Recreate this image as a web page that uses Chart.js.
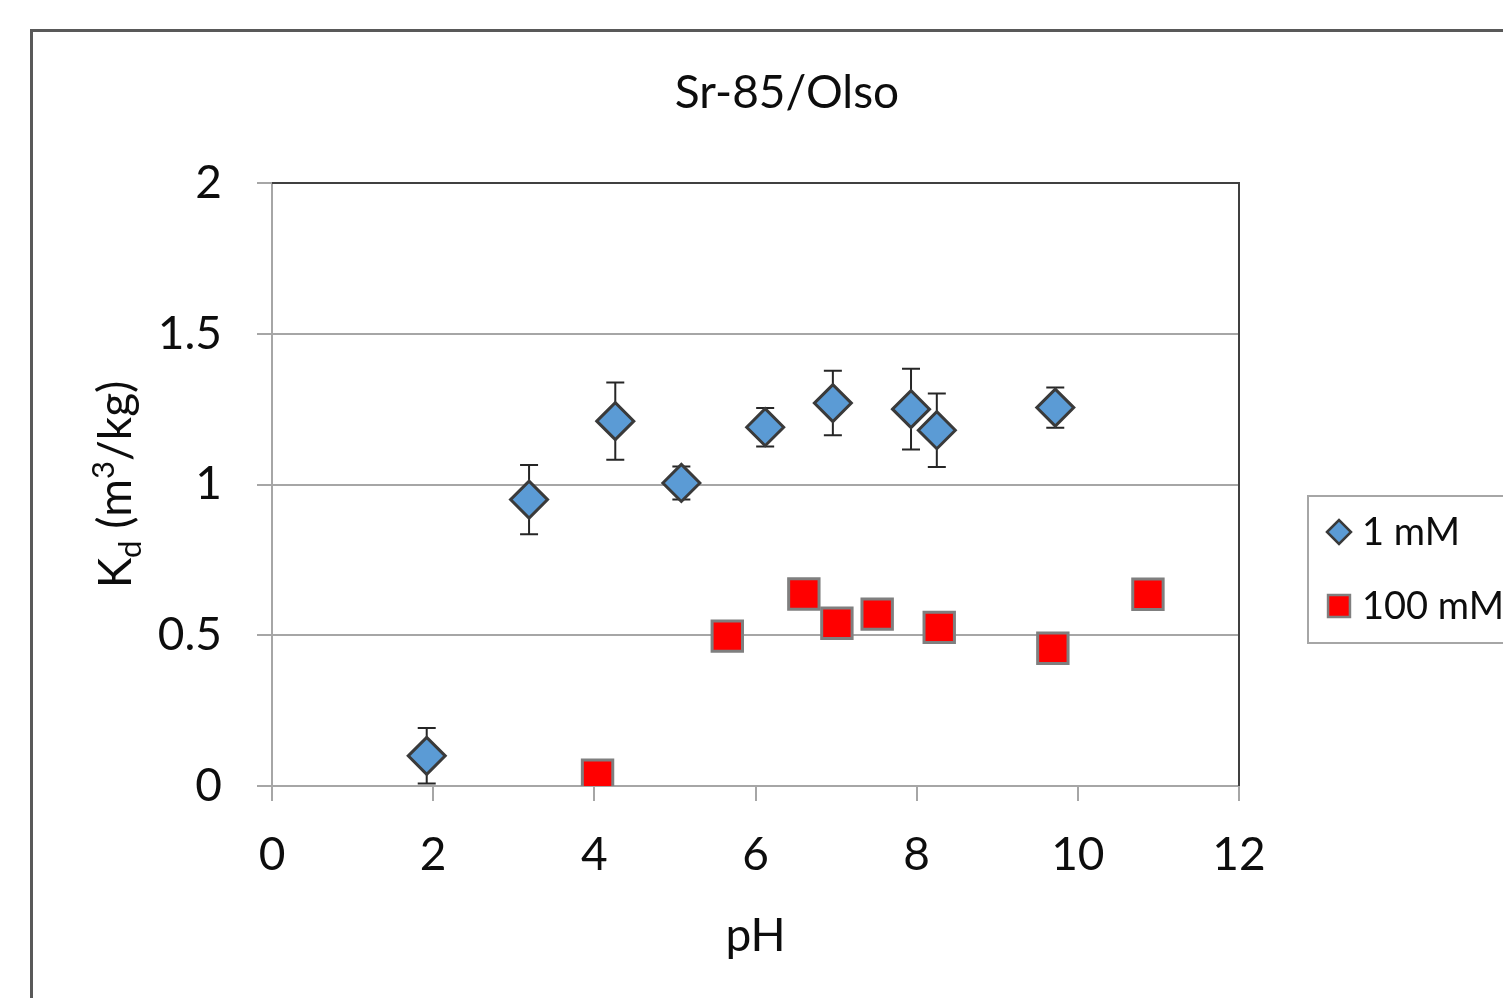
<!DOCTYPE html>
<html>
<head>
<meta charset="utf-8">
<script src="https://cdn.jsdelivr.net/npm/chart.js@4.4.1/dist/chart.umd.min.js"></script>
<style>
  html, body { margin: 0; padding: 0; background: #fff; overflow: hidden; }
  #wrap { position: absolute; left: 0; top: 0; width: 1574px; height: 1100px; }
</style>
</head>
<body>
<div id="wrap"><canvas id="kdChart" width="1574" height="1100"></canvas></div>
<script>
// pH and Kd values
const ph1mM = [1.92, 3.19, 4.26, 5.08, 6.12, 6.96, 7.93, 8.25, 9.72];
const kd1mM = [0.10, 0.95, 1.21, 1.005, 1.19, 1.27, 1.25, 1.18, 1.255];
const err1mM = [0.092, 0.115, 0.128, 0.055, 0.064, 0.107, 0.134, 0.122, 0.067];

const ph100mM = [4.04, 5.65, 6.60, 7.01, 7.51, 8.28, 9.69, 10.87];
const kd100mM = [0.036, 0.497, 0.637, 0.54, 0.57, 0.526, 0.457, 0.636];

const seriesNames = ["1 mM", "100 mM"];
const xTicks = [0, 2, 4, 6, 8, 10, 12];
const yTicks = [0, 0.5, 1, 1.5, 2];

const chartTitle = "Sr-85/Olso";
const xTitle = "pH";

const FONT = "Lato, 'Open Sans', sans-serif";
const TEXT = "#0d0d0d";
const GRID = "#a6a6a6";

function toPoints(xs, ys) {
    return xs.map((x, i) => ({ x, y: ys[i] }));
}

// Outer chart frame, drawn behind everything
const framePlugin = {
    id: "frame",
    beforeDraw(chart) {
        const ctx = chart.ctx;
        ctx.save();
        ctx.fillStyle = "#fff";
        ctx.fillRect(0, 0, chart.width, chart.height);
        ctx.strokeStyle = "#595959";
        ctx.lineWidth = 3;
        ctx.beginPath();
        ctx.moveTo(31.5, chart.height + 10);
        ctx.lineTo(31.5, 30.5);
        ctx.lineTo(chart.width + 10, 30.5);
        ctx.stroke();
        ctx.restore();
    },
};

// Vertical error bars for the 1 mM series
const errorBarPlugin = {
    id: "errorBars",
    beforeDatasetsDraw(chart) {
        const ctx = chart.ctx;
        const xs = chart.scales.x;
        const ys = chart.scales.y;
        ctx.save();
        ctx.strokeStyle = "#262626";
        ctx.lineWidth = 2;
        ph1mM.forEach((ph, i) => {
            const px = xs.getPixelForValue(ph);
            const top = ys.getPixelForValue(kd1mM[i] + err1mM[i]);
            const bot = ys.getPixelForValue(kd1mM[i] - err1mM[i]);
            ctx.beginPath();
            ctx.moveTo(px, top);
            ctx.lineTo(px, bot);
            ctx.moveTo(px - 9, top);
            ctx.lineTo(px + 9, top);
            ctx.moveTo(px - 9, bot);
            ctx.lineTo(px + 9, bot);
            ctx.stroke();
        });
        ctx.restore();
    },
};

function drawMarker(ctx, style, x, y, r, fill, stroke, lw) {
    ctx.save();
    ctx.fillStyle = fill;
    ctx.strokeStyle = stroke;
    ctx.lineWidth = lw;
    ctx.beginPath();
    if (style === "rectRot") {
        ctx.moveTo(x - r, y);
        ctx.lineTo(x, y - r);
        ctx.lineTo(x + r, y);
        ctx.lineTo(x, y + r);
        ctx.closePath();
    } else {
        const h = r * Math.SQRT1_2;
        ctx.rect(x - h, y - h, 2 * h, 2 * h);
    }
    ctx.fill();
    ctx.stroke();
    ctx.restore();
}

// Titles (with sub/superscripts), plot border and boxed legend
const decorPlugin = {
    id: "decor",
    afterDraw(chart) {
        const ctx = chart.ctx;
        const area = chart.chartArea;
        ctx.save();

        // plot area border, top and right
        ctx.strokeStyle = "#404040";
        ctx.lineWidth = 2;
        ctx.beginPath();
        ctx.moveTo(area.left, area.top);
        ctx.lineTo(area.right, area.top);
        ctx.lineTo(area.right, area.bottom);
        ctx.stroke();

        ctx.fillStyle = TEXT;
        ctx.textBaseline = "alphabetic";
        ctx.textAlign = "center";

        // chart title
        ctx.font = "46px " + FONT;
        ctx.fillText(chartTitle, 787, 108);

        // x axis title
        ctx.fillText(xTitle, (area.left + area.right) / 2, 951);

        // y axis title: K_d (m^3/kg)
        const parts = [
            { t: "K", size: 46, dy: 0 },
            { t: "d", size: 31, dy: 10 },
            { t: " (m", size: 46, dy: 0 },
            { t: "3", size: 31, dy: -17 },
            { t: "/kg)", size: 46, dy: 0 },
        ];
        ctx.textAlign = "left";
        let total = 0;
        parts.forEach((p) => {
            ctx.font = p.size + "px " + FONT;
            p.w = ctx.measureText(p.t).width;
            total += p.w;
        });
        ctx.translate(131, (area.top + area.bottom) / 2);
        ctx.rotate(-Math.PI / 2);
        let cx = -total / 2;
        parts.forEach((p) => {
            ctx.font = p.size + "px " + FONT;
            ctx.fillText(p.t, cx, p.dy);
            cx += p.w;
        });
        ctx.setTransform(1, 0, 0, 1, 0, 0);

        // legend box
        ctx.strokeStyle = GRID;
        ctx.lineWidth = 2;
        ctx.strokeRect(1308, 496, 400, 147);
        ctx.font = "38px " + FONT;
        ctx.textBaseline = "middle";
        const rows = [532, 606];
        chart.data.datasets.forEach((ds, i) => {
            const y = rows[i];
            const r = ds.pointStyle === "rectRot" ? 12 : 15.5;
            drawMarker(ctx, ds.pointStyle, 1339, y, r, ds.backgroundColor, ds.borderColor, 2.5);
            ctx.fillStyle = TEXT;
            ctx.fillText(ds.label, 1362, y + 1);
        });

        ctx.restore();
    },
};

new Chart(document.getElementById("kdChart"), {
    type: "scatter",
    data: {
        datasets: [
            {
                label: seriesNames[0],
                data: toPoints(ph1mM, kd1mM),
                pointStyle: "rectRot",
                pointRadius: 18.5,
                pointHoverRadius: 18.5,
                backgroundColor: "#5b9bd5",
                borderColor: "#3a3a3a",
                borderWidth: 3,
            },
            {
                label: seriesNames[1],
                data: toPoints(ph100mM, kd100mM),
                pointStyle: "rect",
                pointRadius: 21.5,
                pointHoverRadius: 21.5,
                backgroundColor: "#ff0000",
                borderColor: "#7f7f7f",
                borderWidth: 3,
            },
        ],
    },
    options: {
        responsive: false,
        animation: false,
        devicePixelRatio: 1,
        layout: { padding: { top: 183, right: 335, bottom: 0, left: 0 } },
        plugins: {
            legend: { display: false },
            title: { display: false },
            tooltip: { enabled: false },
        },
        scales: {
            x: {
                type: "linear",
                min: 0,
                max: 12,
                afterBuildTicks: (scale) => {
                    scale.ticks = xTicks.map((v) => ({ value: v }));
                },
                afterFit: (scale) => {
                    scale.height = 314;
                },
                ticks: {
                    color: TEXT,
                    font: { family: FONT, size: 46 },
                    padding: 27,
                    maxRotation: 0,
                    callback: (v) => String(v),
                },
                grid: {
                    drawOnChartArea: false,
                    drawTicks: true,
                    tickLength: 15,
                    color: GRID,
                    lineWidth: 2,
                },
                border: { color: GRID, width: 2 },
            },
            y: {
                type: "linear",
                min: 0,
                max: 2,
                afterBuildTicks: (scale) => {
                    scale.ticks = yTicks.map((v) => ({ value: v }));
                },
                afterFit: (scale) => {
                    scale.width = 272;
                },
                ticks: {
                    color: TEXT,
                    font: { family: FONT, size: 46 },
                    padding: 35,
                    callback: (v) => String(v),
                },
                grid: {
                    drawTicks: true,
                    tickLength: 15,
                    color: GRID,
                    lineWidth: 2,
                },
                border: { color: GRID, width: 2 },
            },
        },
    },
    plugins: [framePlugin, errorBarPlugin, decorPlugin],
});
</script>
</body>
</html>
